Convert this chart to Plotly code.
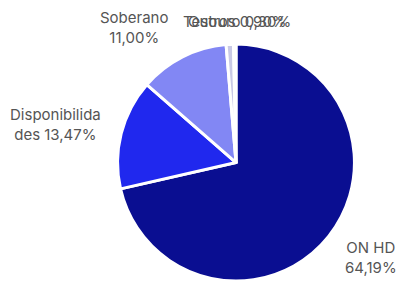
import plotly.graph_objects as go

labels = ["ON HD", "Disponibilidades", "Soberano", "Outros", "Tesouro"]
values = [64.19, 13.47, 11.00, 0.90, 0.30]
label_text = ["ON HD<br>64,19%", "Disponibilida<br>des 13,47%", "Soberano<br>11,00%",
              "Outros 0,90%", "Tesouro 0,30%"]
colors = ["#0A0E91", "#2028EE", "#8287F4", "#C9C9E6", "#F2F2FA"]

# label anchor positions (paper pixels from top-left) and alignment
label_pos = [(371, 257, "center"), (55, 124, "center"), (134, 27, "center"),
             (186, 22, "left"), (181, 22, "left")]

W, H = 397, 281

fig = go.Figure(go.Pie(
    labels=labels,
    values=values,
    textinfo="none",
    sort=False,
    direction="clockwise",
    rotation=0,
    marker=dict(colors=colors, line=dict(color="white", width=3)),
    domain=dict(x=[0.296, 0.893], y=[0.0, 0.843]),
    showlegend=False,
    hoverinfo="label+value",
))

for txt, (px, py, anc) in zip(label_text, label_pos):
    fig.add_annotation(text=txt, x=px / W, y=1 - py / H, xref="paper", yref="paper",
                       xanchor=anc, yanchor="middle", align="center", showarrow=False,
                       font=dict(family="Inter", size=15, color="#555555"))

fig.update_layout(
    width=W, height=H,
    margin=dict(l=0, r=0, t=0, b=0),
    paper_bgcolor="white",
    plot_bgcolor="white",
    font=dict(family="Inter", size=15, color="#555555"),
)

fig.write_html("out.html", config={"displayModeBar": False},
               post_script="document.body.style.margin='0';document.body.style.overflow='hidden';")
